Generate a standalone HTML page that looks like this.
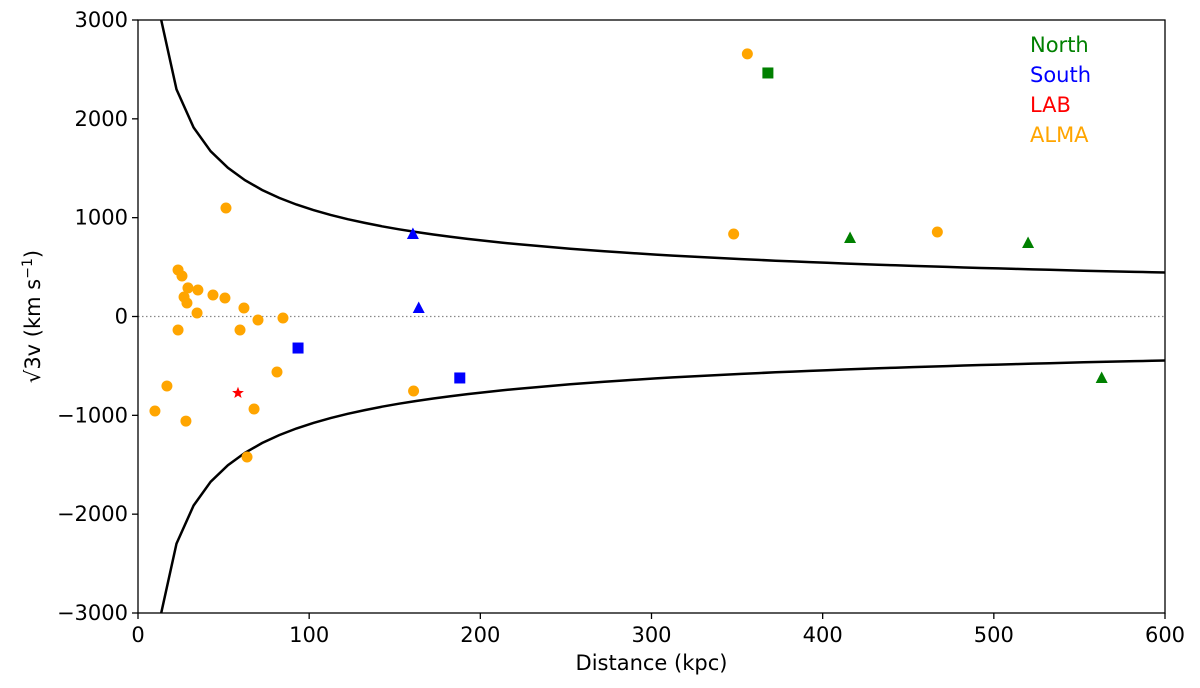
<!DOCTYPE html>
<html><head><meta charset="utf-8"><style>
html,body{margin:0;padding:0;background:#fff;width:1200px;height:688px;overflow:hidden;}
svg{display:block;font-family:"DejaVu Sans","Liberation Sans",sans-serif;}
</style></head><body>
<svg id="chart" width="1200" height="688" viewBox="0 0 1200 688"></svg>
<script>
const xTicks=[0,100,200,300,400,500,600];
const yTicks=[-3000,-2000,-1000,0,1000,2000,3000];
const curveK=10900;
const almaD=[356,348,467,51.4,23.4,25.7,26.9,29.2,28.6,35,34.5,43.8,50.8,61.9,59.6,70.1,84.7,23.4,16.9,9.9,28,67.8,63.7,81.2,161];
const almaV=[2657,835,855,1098,471,410,197,289,137,268,35,218,187,86,-137,-35,-15,-137,-703,-956,-1058,-936,-1422,-562,-754];
const labD=[58.4];
const labV=[-774];
const northSqD=[368];const northSqV=[2464];
const northTriD=[416,520,563];const northTriV=[794,744,-622];
const southTriD=[160.6,164];const southTriV=[835,86];
const southSqD=[93.5,188];const southSqV=[-319,-622];

const X0=138,X1=1165,Y0=20,Y1=613;
const sx=d=>X0+(d-0)/600*(X1-X0);
const sy=v=>Y1-(v+3000)/6000*(Y1-Y0);
const svg=document.getElementById('chart');
const NS='http://www.w3.org/2000/svg';
function mk(tag,attrs,parent){const e=document.createElementNS(NS,tag);for(const k in attrs)e.setAttribute(k,attrs[k]);(parent||svg).appendChild(e);return e;}

const defs=mk('defs',{});
const cp=mk('clipPath',{id:'clip'},defs);
mk('rect',{x:X0,y:Y0,width:X1-X0,height:Y1-Y0},cp);

const z=mk('line',{x1:X0,x2:X1,y1:sy(0),y2:sy(0),stroke:'#888','stroke-width':1.3,'stroke-dasharray':'1.5,2.5'});



let up='',lo='';
for(let d=2.5;d<=605;d+=10){const v=curveK/Math.sqrt(d);up+=(up?'L':'M')+sx(d).toFixed(1)+','+sy(v).toFixed(1);lo+=(lo?'L':'M')+sx(d).toFixed(1)+','+sy(-v).toFixed(1);}
const cu=mk('path',{d:up,fill:'none',stroke:'#000','stroke-width':2.5,'clip-path':'url(#clip)'});


const cl=mk('path',{d:lo,fill:'none',stroke:'#000','stroke-width':2.5,'clip-path':'url(#clip)'});



function circ(D,V,col,name){D.forEach((d,i)=>{const c=mk('circle',{cx:sx(d),cy:sy(V[i]),r:5.5,fill:col});});}
function sq(D,V,col,name){D.forEach((d,i)=>{const c=mk('rect',{x:sx(d)-5.5,y:sy(V[i])-5.5,width:11,height:11,fill:col});});}
function tri(D,V,col,name){D.forEach((d,i)=>{const x=sx(d),y=sy(V[i]);const c=mk('polygon',{points:`${x},${y-6.5} ${x+6},${y+5} ${x-6},${y+5}`,fill:col});});}
function star(D,V,col,name){D.forEach((d,i)=>{const x=sx(d),y=sy(V[i]);let p='';for(let k=0;k<10;k++){const r=k%2?2.6:6.2;const a=-Math.PI/2+k*Math.PI/5;p+=(x+r*Math.cos(a)).toFixed(1)+','+(y+r*Math.sin(a)).toFixed(1)+' ';}const c=mk('polygon',{points:p,fill:col});});}
circ(almaD,almaV,'#ffa500','alma-point');
star(labD,labV,'#ff0000','lab-point');
sq(northSqD,northSqV,'#008000','north-square-point');
tri(northTriD,northTriV,'#008000','north-triangle-point');
tri(southTriD,southTriV,'#0000ff','south-triangle-point');
sq(southSqD,southSqV,'#0000ff','south-square-point');

const fr=mk('rect',{x:X0,y:Y0,width:X1-X0,height:Y1-Y0,fill:'none',stroke:'#000','stroke-width':1.3});



xTicks.forEach(t=>{const x=sx(t);mk('line',{x1:x,x2:x,y1:Y1,y2:Y1+6,stroke:'#000','stroke-width':1.3});const tx=mk('text',{x:x,y:Y1+29,'text-anchor':'middle','font-size':21});tx.textContent=t;});
yTicks.forEach(t=>{const y=sy(t);mk('line',{x1:X0-6,x2:X0,y1:y,y2:y,stroke:'#000','stroke-width':1.3});const tx=mk('text',{x:X0-10,y:y+7,'text-anchor':'end','font-size':21});tx.textContent=t<0?'\u2212'+(-t):t;});

const xt=mk('text',{x:(X0+X1)/2,y:670,'text-anchor':'middle','font-size':21});xt.textContent='Distance (kpc)';


const yt=mk('text',{x:0,y:0,'text-anchor':'middle','font-size':21,transform:`translate(40,${(Y0+Y1)/2}) rotate(-90)`});
yt.innerHTML='\u221A3v (km s<tspan dy="-8" font-size="14">\u22121</tspan><tspan dy="8">)</tspan>';



[['North','#008000'],['South','#0000ff'],['LAB','#ff0000'],['ALMA','#ffa500']].forEach((l,i)=>{const t=mk('text',{x:1030,y:52+i*30,'font-size':21,fill:l[1]});t.textContent=l[0];});
</script>
</body></html>
